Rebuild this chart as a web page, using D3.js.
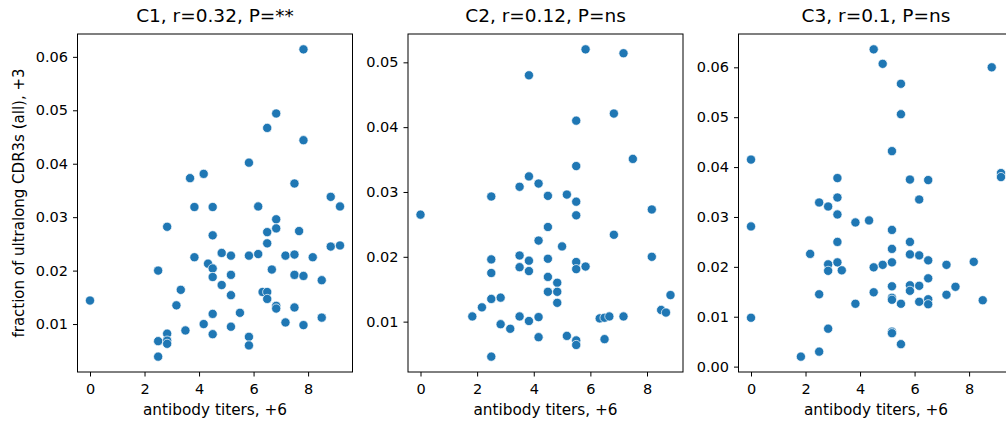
<!DOCTYPE html>
<meta charset="utf-8">
<style>
  body { margin: 0; background: #fff; }
  text { font-family: "DejaVu Sans", sans-serif; fill: #000; }
  .axis path { display: none; }
  .axis line { stroke: #000; stroke-width: 1; }
  .axis text { font-size: 14.5px; font-family: "DejaVu Sans", sans-serif; }
  .frame { fill: none; stroke: #000; stroke-width: 1; }
  .dot { fill: #1f77b4; stroke: #fff; stroke-width: 0.7; }
</style>
<body>
<div id="chart"></div>
<script src="https://d3js.org/d3.v7.min.js"></script>
<script>
// panel titles and axis labels
var titles = ["C1, r=0.32, P=**", "C2, r=0.12, P=ns", "C3, r=0.1, P=ns"];
var xLabel = "antibody titers, +6";
var yLabel = "fraction of ultralong CDR3s (all), +3";
var xTicks = [0, 2, 4, 6, 8];
var yTicks = [
  [0.01, 0.02, 0.03, 0.04, 0.05, 0.06],
  [0.01, 0.02, 0.03, 0.04, 0.05],
  [0.00, 0.01, 0.02, 0.03, 0.04, 0.05, 0.06]
];

// C1 points
var c1X = [0, 7.83, 6.83, 6.5, 7.83, 5.83, 4.17, 3.67, 7.5, 8.83, 9.17, 3.83, 4.5, 6.17, 2.83,
  6.83, 6.83, 6.5, 7.67, 4.5, 6.5, 8.83, 9.17, 4.83, 5.17, 5.83, 6.17, 7.17, 7.5, 8.17,
  3.83, 4.33, 4.5, 2.5, 6.67, 4.5, 5.17, 7.5, 7.83, 8.5, 4.83, 3.33, 6.33, 6.5, 5.17,
  6.5, 3.17, 6.83, 6.83, 7.5, 4.5, 5.5, 8.5, 7.17, 4.17, 7.83, 5.17, 3.5, 2.83, 4.5,
  5.83, 2.5, 2.83, 2.83, 5.83, 2.5];
var c1Y = [0.0144, 0.0614, 0.0494, 0.0467, 0.0444, 0.0402, 0.0381, 0.0373, 0.0363, 0.0338,
  0.0320, 0.0319, 0.0319, 0.0320, 0.0282, 0.0296, 0.0279, 0.0272, 0.0274, 0.0266,
  0.0251, 0.0245, 0.0247, 0.0233, 0.0228, 0.0228, 0.0231, 0.0228, 0.0230, 0.0225,
  0.0225, 0.0213, 0.0204, 0.0200, 0.0202, 0.0188, 0.0192, 0.0192, 0.0190, 0.0182,
  0.0173, 0.0164, 0.0160, 0.0160, 0.0154, 0.0147, 0.0135, 0.0134, 0.0129, 0.0131,
  0.0119, 0.0121, 0.0112, 0.0103, 0.0100, 0.0098, 0.0095, 0.0088, 0.0082, 0.0081,
  0.0076, 0.0068, 0.0069, 0.0063, 0.0060, 0.0039];

// C2 points
var c2X = [0, 5.83, 7.17, 3.83, 6.83, 5.5, 7.5, 5.5, 3.83, 3.5, 4.17, 2.5, 4.5, 5.17, 5.5,
  5.5, 8.17, 4.5, 6.83, 4.17, 5.0, 2.5, 3.5, 3.83, 4.5, 5.5, 5.5, 5.83, 8.17, 2.5,
  3.5, 3.83, 4.5, 4.83, 4.5, 4.83, 4.83, 2.83, 2.5, 2.17, 1.83, 3.5, 4.17, 3.83, 2.83,
  3.17, 4.17, 5.17, 5.5, 5.5, 6.5, 6.33, 6.5, 6.67, 7.17, 8.5, 8.67, 8.83, 2.5];
var c2Y = [0.0265, 0.0520, 0.0514, 0.0480, 0.0421, 0.0410, 0.0351, 0.0340, 0.0324, 0.0308,
  0.0313, 0.0293, 0.0294, 0.0296, 0.0285, 0.0264, 0.0273, 0.0246, 0.0234, 0.0225,
  0.0216, 0.0196, 0.0202, 0.0194, 0.0197, 0.0192, 0.0181, 0.0185, 0.0200, 0.0175,
  0.0184, 0.0178, 0.0169, 0.0160, 0.0146, 0.0146, 0.0129, 0.0137, 0.0135, 0.0122,
  0.0108, 0.0108, 0.0107, 0.0101, 0.0096, 0.0089, 0.0076, 0.0078, 0.0071, 0.0064,
  0.0073, 0.0105, 0.0106, 0.0108, 0.0108, 0.0118, 0.0114, 0.0141, 0.0046];

// C3 points
var c3X = [0, 0, 0, 4.5, 4.83, 5.5, 5.5, 8.83, 5.17, 5.83, 6.5, 9.17, 9.17, 6.17, 3.17,
  3.17, 2.5, 2.83, 3.17, 3.83, 4.33, 5.17, 3.17, 5.83, 5.17, 2.17, 5.83, 6.17, 6.5, 8.17,
  7.17, 2.83, 3.17, 5.17, 4.83, 4.5, 2.83, 3.33, 6.5, 5.17, 5.83, 5.83, 6.17, 7.5, 2.5,
  4.5, 7.17, 5.17, 5.17, 6.5, 6.5, 6.17, 5.5, 3.83, 8.5, 2.83, 5.17, 5.17, 5.5, 2.5, 1.83];
var c3Y = [0.0415, 0.0281, 0.0098, 0.0636, 0.0607, 0.0567, 0.0506, 0.0600, 0.0432, 0.0375,
  0.0374, 0.0388, 0.0380, 0.0335, 0.0378, 0.0339, 0.0329, 0.0321, 0.0305, 0.0289,
  0.0293, 0.0274, 0.0250, 0.0250, 0.0236, 0.0226, 0.0225, 0.0223, 0.0213, 0.0210,
  0.0204, 0.0205, 0.0209, 0.0209, 0.0204, 0.0199, 0.0192, 0.0193, 0.0177, 0.0161,
  0.0163, 0.0152, 0.0162, 0.0160, 0.0145, 0.0149, 0.0144, 0.0138, 0.0134, 0.0135,
  0.0125, 0.0130, 0.0126, 0.0126, 0.0133, 0.0076, 0.0070, 0.0067, 0.0045, 0.0030, 0.0020];

var width = 1006,
    height = 423;

var panelLeft = [77.5, 408, 738.5],
    panelW = 275,
    plotTop = 34,
    plotBottom = 372;

var series = [[c1X, c1Y], [c2X, c2Y], [c3X, c3Y]];

var svg = d3.select("#chart").append("svg")
    .attr("width", width)
    .attr("height", height);

// seaborn-like 5% padding around the data
function padded(vals) {
  var e = d3.extent(vals), m = (e[1] - e[0]) * 0.05;
  return [e[0] - m, e[1] + m];
}

series.forEach(function(s, i) {
  var xs = s[0], ys = s[1];
  var x = d3.scaleLinear().domain(padded(xs)).range([panelLeft[i], panelLeft[i] + panelW]);
  var y = d3.scaleLinear().domain(padded(ys)).range([plotBottom, plotTop]);

  var g = svg.append("g");

  g.append("g")
      .attr("class", "axis")
      .attr("transform", "translate(0," + plotBottom + ")")
      .call(d3.axisBottom(x).tickValues(xTicks).tickSize(4.5).tickPadding(7).tickFormat(d3.format("d")));

  g.append("g")
      .attr("class", "axis")
      .attr("transform", "translate(" + panelLeft[i] + ",0)")
      .call(d3.axisLeft(y).tickValues(yTicks[i]).tickSize(4.5).tickPadding(5).tickFormat(d3.format(".2f")));

  g.selectAll("circle")
      .data(xs.map(function(d, j) { return [d, ys[j]]; }))
    .enter().append("circle")
      .attr("class", "dot")
      .attr("cx", function(d) { return x(d[0]); })
      .attr("cy", function(d) { return y(d[1]); })
      .attr("r", 4.6);

  g.append("rect")
      .attr("class", "frame")
      .attr("x", panelLeft[i])
      .attr("y", plotTop)
      .attr("width", panelW)
      .attr("height", plotBottom - plotTop);

  g.append("text")
      .attr("x", panelLeft[i] + panelW / 2)
      .attr("y", 22)
      .attr("text-anchor", "middle")
      .style("font-size", "18.5px")
      .text(titles[i]);

  g.append("text")
      .attr("x", panelLeft[i] + panelW / 2)
      .attr("y", 415)
      .attr("text-anchor", "middle")
      .style("font-size", "15.3px")
      .text(xLabel);
});

svg.append("text")
    .attr("transform", "translate(24," + (plotTop + plotBottom) / 2 + ") rotate(-90)")
    .attr("text-anchor", "middle")
    .style("font-size", "15px")
    .text(yLabel);
</script>
</body>
